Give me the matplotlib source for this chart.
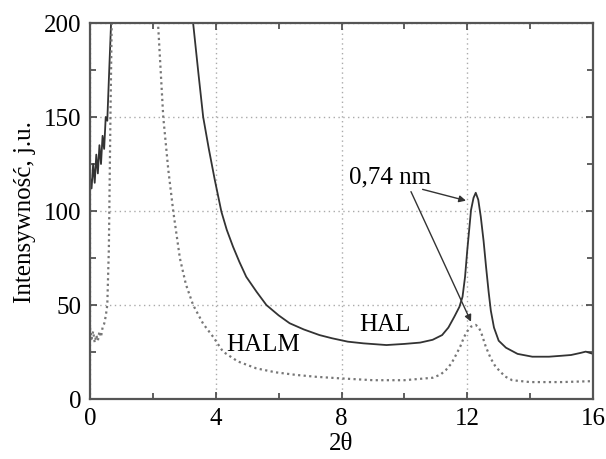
import matplotlib
matplotlib.use("Agg")
import matplotlib.pyplot as plt
from matplotlib.ticker import MultipleLocator

# HAL (solid) curve, 2theta vs intensity
hal_x = [0.0, 0.05, 0.1, 0.15, 0.2, 0.25, 0.3, 0.35, 0.4, 0.45, 0.5, 0.55, 0.6, 0.67, 0.75,
         3.0, 3.28, 3.45, 3.6, 3.78, 3.97, 4.18, 4.35, 4.55, 4.75, 4.97, 5.3, 5.61, 6.0,
         6.35, 6.8, 7.3, 7.7, 8.2, 8.7, 9.43, 10.0, 10.5, 10.9, 11.2, 11.4, 11.59, 11.75,
         11.85, 11.93, 12.0, 12.12, 12.2, 12.27, 12.35, 12.43, 12.52, 12.6, 12.68, 12.75,
         12.85, 13.0, 13.23, 13.6, 14.07, 14.6, 15.0, 15.3, 15.6, 15.77, 16.0]
hal_y = [118, 112, 125, 115, 130, 120, 135, 125, 140, 133, 150, 148, 170, 200, 260,
         260, 200, 173, 150, 133, 116.5, 99.6, 90, 81, 73, 65, 57, 50, 44.5,
         40.3, 37, 34, 32.3, 30.5, 29.6, 28.7, 29.3, 30, 31.5, 34, 38, 43.8, 49,
         54.4, 65, 79, 100.5, 107, 109.7, 106, 97, 84, 70, 57, 47,
         38, 31, 27.3, 24, 22.5, 22.5, 23, 23.4, 24.5, 25.2, 24]

# HALM (dotted) curve
halm_x = [0.0, 0.05, 0.1, 0.15, 0.2, 0.25, 0.3, 0.35, 0.4, 0.45, 0.5, 0.55, 0.6, 0.65, 0.69, 0.75,
          2.0, 2.17, 2.33, 2.49, 2.65, 2.86, 3.05, 3.28, 3.6, 3.92, 4.23, 4.7, 5.29, 5.9,
          6.56, 7.2, 7.94, 9.0, 10.0, 10.9, 11.15, 11.32, 11.5, 11.64, 11.78, 11.9, 12.0,
          12.12, 12.27, 12.37, 12.45, 12.59, 12.75, 12.9, 13.2, 13.43, 14.0, 15.0, 16.0]
halm_y = [38, 32, 36, 30, 34, 31, 36, 33, 38, 40, 44, 50, 80, 150, 200, 300,
          260, 198, 150, 122, 99.6, 74.8, 61, 50, 40, 33, 25.2, 20, 16.3, 14.2,
          12.8, 11.8, 11, 10, 10, 11.3, 13, 15.4, 19, 23.4, 28, 33, 36,
          38.5, 39.4, 38, 35, 27.8, 21.5, 17.2, 12, 10, 9, 9, 9.5]

plt.rcParams['font.family'] = ['Liberation Serif', 'DejaVu Serif']
plt.rcParams['font.size'] = 18

fig = plt.figure(figsize=(6.06, 4.6), dpi=100)
ax = fig.add_axes([90/606, 60/460, 503/606, 376/460])

ax.plot(hal_x, hal_y, color="#333333", lw=1.3)
ax.plot(halm_x, halm_y, color="#777777", lw=1.6, ls=(0, (1, 1.5)))

ax.set_xlim(0, 16)
ax.set_ylim(0, 200)
ax.xaxis.set_major_locator(MultipleLocator(4))
ax.xaxis.set_minor_locator(MultipleLocator(2))
ax.yaxis.set_major_locator(MultipleLocator(50))
ax.yaxis.set_minor_locator(MultipleLocator(25))
ax.tick_params(which="both", direction="in", right=True, top=True, color="#444444", width=1.2)
ax.tick_params(which="major", length=5, pad=6)
ax.tick_params(which="minor", length=4)
ax.grid(True, which="major", color="#aaaaaa", ls=(0, (1, 2.5)), lw=1.0)
for s in ax.spines.values():
    s.set_color("#555555")
    s.set_linewidth(1.6)

ax.set_xlabel("2θ", labelpad=2)
ax.set_ylabel("Intensywność, j.u.", labelpad=6)

ax.text(8.25, 118.6, "0,74 nm", va="center", ha="left")
ax.text(8.57, 39.9, "HAL", va="center", ha="left")
ax.text(4.32, 29.2, "HALM", va="center", ha="left")
arr = dict(arrowstyle="-|>", color="#333333", lw=1.0, mutation_scale=10, shrinkA=0, shrinkB=0)
ax.annotate("", xy=(11.96, 105.5), xytext=(10.58, 111.5), arrowprops=arr)
ax.annotate("", xy=(12.12, 41.1), xytext=(10.21, 110.3), arrowprops=arr)

fig.savefig("out.png", dpi=100)
